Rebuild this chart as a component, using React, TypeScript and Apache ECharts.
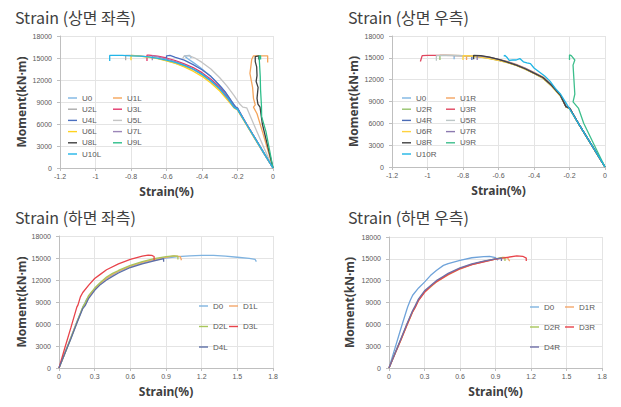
import React, { useEffect, useRef } from "react";
import * as echarts from "echarts";

type P = [number, number][];

// ---------- Top-left: Strain (상면 좌측) ----------
const TL_NAMES = ["U0", "U1L", "U2L", "U3L", "U4L", "U5L", "U6L", "U7L", "U8L", "U9L", "U10L"];
const TL_COLORS = ["#7DB5E3", "#F5A55A", "#ABABAB", "#E2376B", "#4A6FC0", "#C4C4C4", "#FFD21F", "#9C86B8", "#3F3F3F", "#2DBE8A", "#22B5E8"];
const TL_U0: P = [[0,0],[-0.05,1900],[-0.1,3900],[-0.15,5900],[-0.2,8100],[-0.22,8600],[-0.25,9700],[-0.29,11000],[-0.33,12000],[-0.37,12900],[-0.41,13700],[-0.45,14400],[-0.48,14900],[-0.5,15300],[-0.47,15350],[-0.46,15000]];
const TL_U1L: P = [[0,0],[-0.03,2500],[-0.06,5000],[-0.09,7400],[-0.11,8300],[-0.1,8600],[-0.11,9500],[-0.115,11000],[-0.13,12900],[-0.125,13800],[-0.12,14800],[-0.11,15300],[-0.08,15300],[-0.05,15300],[-0.03,15300],[-0.03,14400]];
const TL_U2L: P = [[0,0],[-0.05,2000],[-0.1,4000],[-0.15,6000],[-0.2,8000],[-0.22,8300],[-0.25,9300],[-0.3,10700],[-0.35,11800],[-0.4,12700],[-0.45,13400],[-0.5,13900],[-0.55,14300],[-0.6,14650],[-0.65,14950],[-0.7,15150],[-0.75,15300],[-0.8,15350],[-0.83,15350],[-0.83,14700]];
const TL_U3L: P = [[0,0],[-0.05,2000],[-0.1,4050],[-0.15,6050],[-0.2,8100],[-0.22,8400],[-0.25,9500],[-0.3,11000],[-0.35,12100],[-0.4,13000],[-0.45,13700],[-0.5,14200],[-0.55,14650],[-0.6,15000],[-0.65,15250],[-0.7,15400],[-0.71,15400],[-0.71,14600]];
const TL_U4L: P = [[0,0],[-0.05,2000],[-0.1,4000],[-0.15,6000],[-0.2,8200],[-0.21,8300],[-0.23,9000],[-0.27,10400],[-0.31,11500],[-0.35,12500],[-0.4,13400],[-0.45,14100],[-0.5,14700],[-0.55,15100],[-0.58,15350],[-0.6,15300],[-0.6,14800]];
const TL_U5L: P = [[0,0],[-0.05,2700],[-0.1,5500],[-0.148,8200],[-0.17,8300],[-0.19,8800],[-0.22,9900],[-0.26,11200],[-0.3,12300],[-0.35,13500],[-0.4,14400],[-0.44,15000],[-0.47,15300],[-0.5,15300],[-0.51,14900]];
const TL_U6L: P = [[0,0],[-0.05,1950],[-0.1,3900],[-0.15,5900],[-0.2,7900],[-0.22,8200],[-0.25,9100],[-0.3,10500],[-0.35,11600],[-0.4,12500],[-0.45,13200],[-0.5,13800],[-0.55,14250],[-0.6,14600],[-0.65,14900],[-0.7,15100],[-0.75,15250],[-0.8,15350],[-0.8,14700]];
const TL_U7L: P = [[0,0],[-0.05,2000],[-0.1,4000],[-0.15,6000],[-0.2,8000],[-0.22,8300],[-0.25,9300],[-0.3,10800],[-0.35,11900],[-0.4,12800],[-0.45,13500],[-0.5,14050],[-0.55,14500],[-0.6,14850],[-0.65,15150],[-0.68,15300],[-0.68,14700]];
const TL_U8L: P = [[0,0],[-0.03,3000],[-0.06,6000],[-0.073,8300],[-0.085,8700],[-0.09,9500],[-0.084,11000],[-0.095,11800],[-0.09,12600],[-0.092,13800],[-0.1,14500],[-0.1,15200],[-0.08,15300],[-0.08,14800]];
const TL_U9L: P = [[0,0],[-0.02,2500],[-0.04,5000],[-0.064,7000],[-0.065,8500],[-0.07,10600],[-0.072,12500],[-0.077,14700],[-0.078,15300],[-0.07,15300],[-0.07,14800]];
const TL_U10L: P = [[0,0],[-0.05,2000],[-0.1,4000],[-0.15,6000],[-0.2,8000],[-0.22,8300],[-0.25,9400],[-0.3,10800],[-0.35,11900],[-0.4,12800],[-0.45,13500],[-0.5,14000],[-0.55,14400],[-0.6,14700],[-0.65,14950],[-0.7,15150],[-0.75,15250],[-0.8,15300],[-0.85,15350],[-0.92,15350],[-0.92,14600]];
const TL_DATA = [TL_U0, TL_U1L, TL_U2L, TL_U3L, TL_U4L, TL_U5L, TL_U6L, TL_U7L, TL_U8L, TL_U9L, TL_U10L];

// ---------- Top-right: Strain (상면 우측) ----------
const TR_NAMES = ["U0", "U1R", "U2R", "U3R", "U4R", "U5R", "U6R", "U7R", "U8R", "U9R", "U10R"];
const TR_COLORS = ["#7FB2E0", "#F4A460", "#95C26A", "#E0455E", "#4A6BB5", "#BCC6C6", "#FFD23F", "#8C7AB0", "#404040", "#3DBE8C", "#1FB5E5"];
const TR_U0: P = [[0,0],[-0.05,2000],[-0.1,4000],[-0.15,6000],[-0.19,7700],[-0.2,8100],[-0.22,8300],[-0.25,9800],[-0.3,11200],[-0.35,12300],[-0.4,12950],[-0.45,13550],[-0.5,14050],[-0.55,14450],[-0.6,14750],[-0.65,15000],[-0.7,15150],[-0.75,15250],[-0.8,15300],[-0.85,15300],[-0.85,14800]];
const TR_U1R: P = [[0,0],[-0.05,2000],[-0.1,4000],[-0.15,6000],[-0.19,7700],[-0.2,8100],[-0.22,8300],[-0.25,9900],[-0.3,11300],[-0.35,12400],[-0.4,13000],[-0.45,13600],[-0.5,14100],[-0.55,14500],[-0.6,14800],[-0.65,15050],[-0.7,15200],[-0.75,15300],[-0.78,15300],[-0.78,14700]];
const TR_U2R: P = [[0,0],[-0.05,2000],[-0.1,4000],[-0.15,6000],[-0.19,7600],[-0.2,8000],[-0.22,8300],[-0.25,9700],[-0.3,11100],[-0.35,12200],[-0.4,12850],[-0.45,13450],[-0.5,13950],[-0.55,14350],[-0.6,14650],[-0.65,14900],[-0.7,15100],[-0.75,15200],[-0.8,15300],[-0.87,15350],[-0.93,15350],[-0.93,14700]];
const TR_U3R: P = [[0,0],[-0.05,2000],[-0.1,4000],[-0.15,6000],[-0.19,7700],[-0.2,8100],[-0.22,8300],[-0.25,9800],[-0.3,11200],[-0.35,12300],[-0.4,12900],[-0.45,13500],[-0.5,14000],[-0.55,14400],[-0.6,14700],[-0.65,14950],[-0.7,15150],[-0.75,15250],[-0.8,15300],[-0.9,15350],[-1.0,15350],[-1.03,15300],[-1.04,14500]];
const TR_U4R: P = [[0,0],[-0.05,2000],[-0.1,4000],[-0.15,6000],[-0.19,7700],[-0.2,8100],[-0.22,8300],[-0.25,9800],[-0.3,11200],[-0.35,12250],[-0.4,12900],[-0.45,13500],[-0.5,14000],[-0.55,14400],[-0.6,14750],[-0.65,15000],[-0.7,15200],[-0.75,15300],[-0.75,14700]];
const TR_U5R: P = [[0,0],[-0.05,2000],[-0.1,4000],[-0.15,6000],[-0.19,7700],[-0.2,8100],[-0.22,8300],[-0.25,9800],[-0.3,11200],[-0.35,12300],[-0.4,12900],[-0.45,13500],[-0.5,14000],[-0.55,14400],[-0.6,14700],[-0.65,14950],[-0.7,15150],[-0.75,15250],[-0.8,15300],[-0.9,15350],[-0.95,15300],[-0.95,14600]];
const TR_U6R: P = [[0,0],[-0.05,1950],[-0.1,3950],[-0.15,5950],[-0.19,7600],[-0.2,8000],[-0.22,8250],[-0.25,9700],[-0.3,11100],[-0.35,12200],[-0.4,12850],[-0.45,13450],[-0.5,13950],[-0.55,14350],[-0.6,14650],[-0.65,14900],[-0.7,15100],[-0.75,15250],[-0.8,15300],[-0.8,14700]];
const TR_U7R: P = [[0,0],[-0.05,2000],[-0.1,4000],[-0.15,6000],[-0.19,7700],[-0.2,8100],[-0.22,8300],[-0.25,9800],[-0.3,11200],[-0.35,12300],[-0.4,12950],[-0.45,13550],[-0.5,14050],[-0.55,14450],[-0.6,14800],[-0.65,15050],[-0.7,15250],[-0.72,15300],[-0.72,14700]];
const TR_U8R: P = [[0,0],[-0.05,2000],[-0.1,4000],[-0.15,6000],[-0.19,7700],[-0.2,8100],[-0.22,8300],[-0.25,9800],[-0.3,11200],[-0.35,12300],[-0.4,12900],[-0.45,13500],[-0.5,14000],[-0.55,14400],[-0.6,14800],[-0.65,15100],[-0.7,15300],[-0.74,15350],[-0.74,14800]];
const TR_U9R: P = [[0,0],[-0.06,3000],[-0.12,6000],[-0.15,8100],[-0.18,8950],[-0.17,10000],[-0.175,12000],[-0.18,14000],[-0.17,14700],[-0.19,15300],[-0.2,15400],[-0.2,14700]];
const TR_U10R: P = [[0,0],[-0.05,2000],[-0.1,4000],[-0.15,6000],[-0.2,8000],[-0.22,8800],[-0.25,10000],[-0.28,10800],[-0.31,11800],[-0.34,12500],[-0.37,13050],[-0.4,13600],[-0.42,14200],[-0.44,14300],[-0.46,14450],[-0.48,14900],[-0.5,14700],[-0.52,14700],[-0.54,14650],[-0.55,15000],[-0.565,15350],[-0.57,15200]];
const TR_DATA = [TR_U0, TR_U1R, TR_U2R, TR_U3R, TR_U4R, TR_U5R, TR_U6R, TR_U7R, TR_U8R, TR_U9R, TR_U10R];

// ---------- Bottom-left: Strain (하면 좌측) ----------
const BL_NAMES = ["D0", "D1L", "D2L", "D3L", "D4L"];
const BL_COLORS = ["#7FB3E0", "#F4A66A", "#A8C65A", "#E8434A", "#5C6FA6"];
const BL_D0: P = [[0,0],[0.05,2100],[0.1,4200],[0.15,6300],[0.2,8300],[0.21,8600],[0.23,9300],[0.26,10000],[0.3,10800],[0.35,11600],[0.4,12200],[0.45,12700],[0.5,13100],[0.6,13800],[0.7,14300],[0.8,14700],[0.9,15000],[1.0,15200],[1.1,15300],[1.2,15350],[1.3,15350],[1.4,15250],[1.5,15100],[1.6,14950],[1.65,14800],[1.66,14500]];
const BL_D1L: P = [[0,0],[0.05,2000],[0.1,4100],[0.15,6200],[0.2,8200],[0.22,8700],[0.25,9700],[0.3,10800],[0.35,11600],[0.4,12250],[0.45,12750],[0.5,13200],[0.6,13900],[0.7,14400],[0.8,14800],[0.9,15100],[0.97,15300],[1.02,15200],[1.03,14700]];
const BL_D2L: P = [[0,0],[0.05,2000],[0.1,4100],[0.15,6200],[0.2,8300],[0.22,8900],[0.25,9900],[0.3,10900],[0.35,11700],[0.4,12400],[0.45,12900],[0.5,13300],[0.6,14000],[0.7,14500],[0.8,14900],[0.9,15200],[0.96,15300],[1.0,15250],[1.0,14800]];
const BL_D3L: P = [[0,0],[0.05,2800],[0.1,5500],[0.15,8300],[0.16,8600],[0.18,9700],[0.2,10300],[0.25,11300],[0.3,12200],[0.35,12800],[0.4,13400],[0.5,14200],[0.6,14800],[0.7,15250],[0.75,15400],[0.78,15350],[0.8,15200],[0.8,14600]];
const BL_D4L: P = [[0,0],[0.05,2000],[0.1,4000],[0.15,6100],[0.2,8100],[0.22,8500],[0.25,9500],[0.3,10600],[0.35,11400],[0.4,12000],[0.45,12500],[0.5,12950],[0.6,13700],[0.7,14200],[0.8,14600],[0.88,14900],[0.88,14500]];
const BL_DATA = [BL_D0, BL_D1L, BL_D2L, BL_D3L, BL_D4L];

// ---------- Bottom-right: Strain (하면 우측) ----------
const BR_NAMES = ["D0", "D1R", "D2R", "D3R", "D4R"];
const BR_COLORS = ["#6FA3DA", "#F4A66A", "#A8C65A", "#E8434A", "#6F6FA8"];
const BR_D0: P = [[0,0],[0.05,2700],[0.1,5400],[0.15,8000],[0.16,8500],[0.18,9300],[0.2,10000],[0.25,11000],[0.3,11800],[0.35,12700],[0.4,13400],[0.46,14100],[0.5,14350],[0.6,14800],[0.7,15150],[0.8,15300],[0.85,15350],[0.9,15150],[0.92,14800]];
const BR_D1R: P = [[0,0],[0.05,1900],[0.1,3800],[0.15,5800],[0.2,7700],[0.22,8300],[0.25,9300],[0.3,10400],[0.35,11100],[0.4,11800],[0.45,12300],[0.5,12800],[0.6,13600],[0.7,14200],[0.8,14600],[0.9,14950],[0.97,15200],[1.0,15150],[1.02,14700]];
const BR_D2R: P = [[0,0],[0.05,2000],[0.1,3900],[0.15,5900],[0.2,7800],[0.22,8400],[0.25,9400],[0.3,10500],[0.35,11200],[0.4,11900],[0.45,12400],[0.5,12900],[0.6,13700],[0.7,14250],[0.8,14650],[0.9,15000],[0.96,15200],[0.98,15100],[0.98,14700]];
const BR_D3R: P = [[0,0],[0.05,1950],[0.1,3850],[0.15,5850],[0.2,7750],[0.22,8300],[0.25,9300],[0.3,10400],[0.35,11200],[0.4,11850],[0.45,12350],[0.5,12850],[0.6,13650],[0.7,14200],[0.8,14600],[0.9,14950],[1.0,15200],[1.08,15400],[1.13,15350],[1.16,15100],[1.16,14700]];
const BR_D4R: P = [[0,0],[0.05,2000],[0.1,4000],[0.15,6000],[0.2,7900],[0.22,8500],[0.25,9500],[0.3,10600],[0.35,11300],[0.4,12000],[0.45,12500],[0.5,13000],[0.6,13750],[0.7,14300],[0.8,14700],[0.9,15000],[0.95,15100],[0.95,14700]];
const BR_DATA = [BR_D0, BR_D1R, BR_D2R, BR_D3R, BR_D4R];

const Y_TICKS = { min: 0, max: 18000, interval: 3000 };
const X_TOP = { min: -1.2, max: 0, interval: 0.2 };
const X_BOTTOM = { min: 0, max: 1.8, interval: 0.3 };

const TITLES = ["Strain (상면 좌측)", "Strain (상면 우측)", "Strain (하면 좌측)", "Strain (하면 우측)"];

const KFONT = '"Noto Sans CJK KR", "Noto Sans", sans-serif';
const NFONT = '"Noto Sans", "Open Sans", sans-serif';
const LFONT = '"Liberation Sans", Arial, sans-serif';

export default function App() {
  const ref = useRef<HTMLDivElement>(null);
  useEffect(() => {
    if (!ref.current) return;
    const chart = echarts.init(ref.current, undefined, { renderer: "svg" });

    const grids = [
      { left: 60, top: 36, width: 213, height: 132 },
      { left: 392, top: 36, width: 213, height: 131 },
      { left: 59, top: 236, width: 214, height: 132 },
      { left: 389, top: 237, width: 213, height: 131 },
    ];
    const yNameGaps = [33, 33, 32, 34];
    const titlePos = [
      { left: 15, top: 9 },
      { left: 348, top: 9 },
      { left: 15, top: 209 },
      { left: 348, top: 209 },
    ];
    const panels = [
      { names: TL_NAMES, colors: TL_COLORS, data: TL_DATA, x: X_TOP },
      { names: TR_NAMES, colors: TR_COLORS, data: TR_DATA, x: X_TOP },
      { names: BL_NAMES, colors: BL_COLORS, data: BL_DATA, x: X_BOTTOM },
      { names: BR_NAMES, colors: BR_COLORS, data: BR_DATA, x: X_BOTTOM },
    ];

    const axisLine = { show: true, onZero: false, lineStyle: { color: "#BFBFBF", width: 1 } };
    const axisTick = { show: true, length: 3, lineStyle: { color: "#BFBFBF" } };
    const splitLine = { show: true, lineStyle: { color: "#E4E4E4", width: 1 } };

    const xAxes = panels.map((p, i) => ({
      type: "value",
      gridIndex: i,
      min: p.x.min,
      max: p.x.max,
      interval: p.x.interval,
      name: "Strain(%)",
      nameLocation: "middle",
      nameGap: 17,
      nameTextStyle: { fontFamily: NFONT, fontSize: 12, fontWeight: "bold", color: "#404040" },
      axisLine,
      axisTick,
      splitLine,
      axisLabel: { fontSize: 7, color: "#595959", margin: 5, fontFamily: LFONT, formatter: (v: number) => String(+v.toFixed(2)) },
    }));
    const yAxes = panels.map((_p, i) => ({
      type: "value",
      gridIndex: i,
      min: Y_TICKS.min,
      max: Y_TICKS.max,
      interval: Y_TICKS.interval,
      name: "Moment(kN·m)",
      nameLocation: "middle",
      nameGap: yNameGaps[i],
      nameTextStyle: { fontFamily: NFONT, fontSize: 12, fontWeight: "bold", color: "#404040" },
      axisLine,
      axisTick,
      splitLine,
      axisLabel: { fontSize: 7, color: "#595959", margin: 8, fontFamily: LFONT, formatter: (v: number) => String(v) },
    }));

    const series: any[] = [];
    panels.forEach((p, i) => {
      p.names.forEach((n, k) => {
        series.push({
          type: "line",
          name: n,
          xAxisIndex: i,
          yAxisIndex: i,
          data: p.data[k],
          symbol: "none",
          showSymbol: false,
          lineStyle: { color: p.colors[k], width: 1.3 },
          itemStyle: { color: p.colors[k] },
          silent: true,
        });
      });
    });

    const legendBase = {
      orient: "vertical",
      selectedMode: false,
      padding: 0,
      icon: "rect",
      itemWidth: 9,
      itemHeight: 1.4,
      textStyle: { fontSize: 8, color: "#595959", fontFamily: LFONT, lineHeight: 8 },
    };
    const legendCols = [
      { left: 68, top: 94, gap: 3.2, names: TL_NAMES, col: 0 },
      { left: 113, top: 94, gap: 3.2, names: TL_NAMES, col: 1 },
      { left: 402, top: 94, gap: 3.2, names: TR_NAMES, col: 0 },
      { left: 446, top: 94, gap: 3.2, names: TR_NAMES, col: 1 },
      { left: 199, top: 302, gap: 12.5, names: BL_NAMES, col: 0 },
      { left: 229, top: 302, gap: 12.5, names: BL_NAMES, col: 1 },
      { left: 530, top: 303, gap: 12, names: BR_NAMES, col: 0 },
      { left: 565, top: 303, gap: 12, names: BR_NAMES, col: 1 },
    ];
    const legends = legendCols.map((c) => ({
      ...legendBase,
      left: c.left,
      top: c.top,
      itemGap: c.gap,
      data: c.names.filter((_n, k) => k % 2 === c.col),
    }));

    chart.setOption({
      animation: false,
      backgroundColor: "#FFFFFF",
      title: TITLES.map((t, i) => ({
        text: t,
        left: titlePos[i].left,
        top: titlePos[i].top,
        padding: 0,
        textStyle: { fontFamily: KFONT, fontSize: 16, fontWeight: "normal", color: "#404040" },
      })),
      grid: grids,
      xAxis: xAxes,
      yAxis: yAxes,
      legend: legends,
      series,
    });
    return () => chart.dispose();
  }, []);

  return (
    <div
      ref={ref}
      style={{ position: "fixed", left: 0, top: 0, width: 621, height: 407 }}
    />
  );
}
